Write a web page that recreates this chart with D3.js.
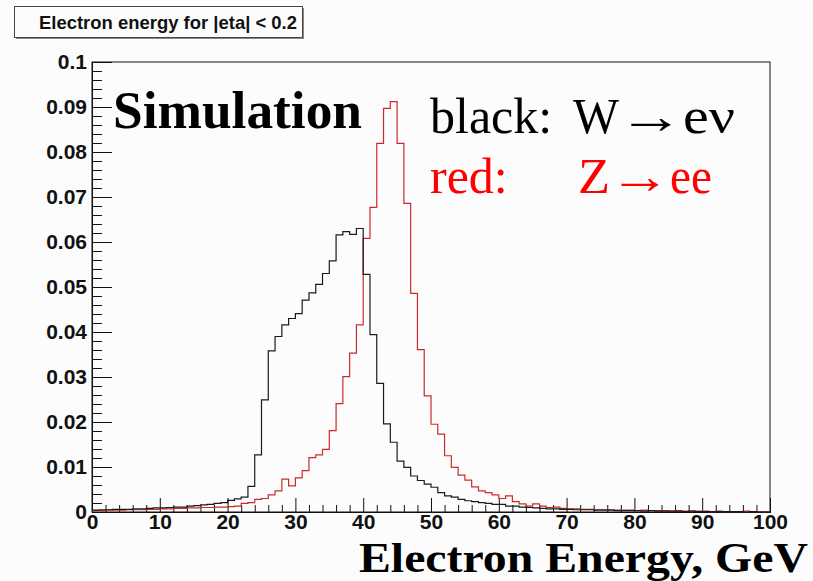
<!DOCTYPE html>
<html>
<head>
<meta charset="utf-8">
<script src="https://cdn.jsdelivr.net/npm/d3@7"></script>
<style>
  html, body { margin: 0; padding: 0; background: #fcfcfc; }
  svg { display: block; }
</style>
</head>
<body>
<svg id="chart" width="813" height="581"></svg>
<script>
// ---- data ----
const binLowEdges = d3.range(0, 100);           // 1 GeV bins, 0..100 GeV
const binWidth = 1;
const wEnu = [
  0.0004, 0.0005, 0.0005, 0.0006, 0.0006, 0.0006, 0.0007, 0.0007, 0.0008, 0.0009,
  0.0009, 0.0010, 0.0011, 0.0011, 0.0013, 0.0014, 0.0016, 0.0017, 0.0019, 0.0021,
  0.0026, 0.0029, 0.0033, 0.0057, 0.0127, 0.0249, 0.0358, 0.0390, 0.0416, 0.0430,
  0.0441, 0.0471, 0.0487, 0.0506, 0.0530, 0.0558, 0.0616, 0.0623, 0.0617, 0.0630,
  0.0528, 0.0394, 0.0286, 0.0196, 0.0155, 0.0113, 0.0099, 0.0080, 0.0070, 0.0062,
  0.0055, 0.0043, 0.0036, 0.0033, 0.0028, 0.0025, 0.0023, 0.0021, 0.0019, 0.0017,
  0.0017, 0.0013, 0.0013, 0.0011, 0.0010, 0.0009, 0.0008, 0.0007, 0.0007, 0.0006,
  0.0006, 0.0005, 0.0005, 0.0005, 0.0004, 0.0004, 0.0004, 0.0003, 0.0003, 0.0003,
  0.0003, 0.0002, 0.0003, 0.0002, 0.0002, 0.0002, 0.0002, 0.0001, 0.0002, 0.0001,
  0.0001, 0.0001, 0.0001, 0.0001, 0.0001, 0.0001, 0.0000, 0.0001, 0.0000, 0.0000
];
const zee = [
  0.0003, 0.0003, 0.0004, 0.0004, 0.0004, 0.0005, 0.0005, 0.0005, 0.0006, 0.0006,
  0.0007, 0.0007, 0.0008, 0.0008, 0.0009, 0.0009, 0.0010, 0.0010, 0.0011, 0.0011,
  0.0012, 0.0013, 0.0019, 0.0021, 0.0028, 0.0030, 0.0038, 0.0047, 0.0073, 0.0058,
  0.0076, 0.0092, 0.0121, 0.0127, 0.0139, 0.0181, 0.0241, 0.0301, 0.0353, 0.0416,
  0.0608, 0.0677, 0.0819, 0.0897, 0.0912, 0.0819, 0.0686, 0.0486, 0.0361, 0.0258,
  0.0195, 0.0173, 0.0125, 0.0099, 0.0082, 0.0071, 0.0056, 0.0047, 0.0043, 0.0038,
  0.0030, 0.0036, 0.0023, 0.0018, 0.0013, 0.0018, 0.0013, 0.0010, 0.0011, 0.0008,
  0.0007, 0.0007, 0.0006, 0.0006, 0.0005, 0.0005, 0.0005, 0.0004, 0.0004, 0.0004,
  0.0003, 0.0004, 0.0003, 0.0003, 0.0003, 0.0002, 0.0003, 0.0002, 0.0002, 0.0002,
  0.0002, 0.0001, 0.0002, 0.0001, 0.0001, 0.0001, 0.0002, 0.0001, 0.0001, 0.0001
];
const xTickValues = [0, 10, 20, 30, 40, 50, 60, 70, 80, 90, 100];
const xTickLabels = ["0", "10", "20", "30", "40", "50", "60", "70", "80", "90", "100"];
const yTickValues = [0, 0.01, 0.02, 0.03, 0.04, 0.05, 0.06, 0.07, 0.08, 0.09, 0.1];
const yTickLabels = ["0", "0.01", "0.02", "0.03", "0.04", "0.05", "0.06", "0.07", "0.08", "0.09", "0.1"];
const titleText = "Electron energy for |eta| < 0.2";
const xAxisTitle = "Electron Energy, GeV";

// ---- layout ----
const svg = d3.select("#chart");
const L = 92, R = 770, T = 62, B = 512;
const x = d3.scaleLinear().domain([0, 100]).range([L, R]);
const y = d3.scaleLinear().domain([0, 0.1]).range([B, T]);

svg.append("rect").attr("width", 813).attr("height", 581).attr("fill", "#fcfcfc");

// title box (with ROOT-like shadow)
svg.append("rect").attr("x", 16).attr("y", 8).attr("width", 288).attr("height", 31)
  .attr("fill", "#888");
svg.append("rect").attr("x", 14.5).attr("y", 6.5).attr("width", 288).attr("height", 31)
  .attr("fill", "#fcfcfc").attr("stroke", "#444").attr("stroke-width", 1);
svg.append("text").attr("x", 39).attr("y", 29)
  .attr("font-family", "'Liberation Sans', Arial, sans-serif").attr("font-weight", "bold")
  .attr("font-size", 18.5).attr("fill", "#111")
  .attr("textLength", 258).attr("lengthAdjust", "spacingAndGlyphs")
  .text(titleText);

// frame
svg.append("rect").attr("x", L).attr("y", T).attr("width", R - L).attr("height", B - T)
  .attr("fill", "none").attr("stroke", "#111").attr("stroke-width", 1);

// y axis
const yMinor = d3.range(0, 51).map(i => i * 0.002).filter(v => Math.round(v * 1000) % 10 !== 0);
const gyMinor = svg.append("g").attr("transform", `translate(${L},0)`)
  .call(d3.axisLeft(y).tickValues(yMinor).tickSize(-10).tickFormat(""));
const gy = svg.append("g").attr("transform", `translate(${L},0)`)
  .call(d3.axisLeft(y).tickValues(yTickValues).tickSize(-20).tickPadding(5)
    .tickFormat((d, i) => yTickLabels[i]));

// x axis
const xMinor = d3.range(0, 51).map(i => i * 2).filter(v => v % 10 !== 0);
const gxMinor = svg.append("g").attr("transform", `translate(0,${B})`)
  .call(d3.axisBottom(x).tickValues(xMinor).tickSize(-7).tickFormat(""));
const gx = svg.append("g").attr("transform", `translate(0,${B})`)
  .call(d3.axisBottom(x).tickValues(xTickValues).tickSize(-14).tickPadding(2)
    .tickFormat((d, i) => xTickLabels[i]));

[gy, gx, gyMinor, gxMinor].forEach(g => {
  g.select(".domain").attr("stroke", "#111");
  g.selectAll(".tick line").attr("stroke", "#111").attr("stroke-width", 1);
  g.selectAll(".tick text").attr("font-family", "'Liberation Sans', Arial, sans-serif")
    .attr("font-weight", "bold").attr("font-size", 21).attr("fill", "#111");
});

// histograms
function histPath(vals) {
  const pts = binLowEdges.map((e, i) => [e, vals[i]]);
  pts.push([binLowEdges[binLowEdges.length - 1] + binWidth, vals[vals.length - 1]]);
  return d3.line().x(d => x(d[0])).y(d => y(d[1])).curve(d3.curveStepAfter)(pts);
}
svg.append("path").attr("d", histPath(zee)).attr("fill", "none")
  .attr("stroke", "#cc2a2a").attr("stroke-width", 1.2);
svg.append("path").attr("d", histPath(wEnu)).attr("fill", "none")
  .attr("stroke", "#1a1a1a").attr("stroke-width", 1.2);

// annotations
const serif = "'Liberation Serif', 'Times New Roman', serif";
svg.append("text").attr("x", 113).attr("y", 128).attr("font-family", serif)
  .attr("font-weight", "bold").attr("font-size", 53).attr("fill", "#000")
  .attr("textLength", 249).attr("lengthAdjust", "spacingAndGlyphs").text("Simulation");

function reaction(yBase, color, label, parts) {
  const t = svg.append("text").attr("y", yBase).attr("font-family", serif)
    .attr("font-size", 50).attr("fill", color);
  t.append("tspan").attr("x", 430).text(label);
  parts.forEach(p => {
    t.append("tspan").attr("x", p.x).attr("textLength", p.w)
      .attr("lengthAdjust", "spacingAndGlyphs").text(p.s);
  });
}
reaction(133, "#000", "black:", [
  { x: 573, w: 46, s: "W" },
  { x: 618, w: 66, s: "\u2192" },
  { x: 683, w: 52, s: "e\u03BD" }
]);
reaction(193, "#ff0000", "red:", [
  { x: 578, w: 32, s: "Z" },
  { x: 609, w: 62, s: "\u2192" },
  { x: 670, w: 42, s: "ee" }
]);

svg.append("text").attr("x", 359).attr("y", 571.5).attr("font-family", serif)
  .attr("font-weight", "bold").attr("font-size", 42).attr("fill", "#000")
  .attr("textLength", 449).attr("lengthAdjust", "spacingAndGlyphs").text(xAxisTitle);
</script>
</body>
</html>
